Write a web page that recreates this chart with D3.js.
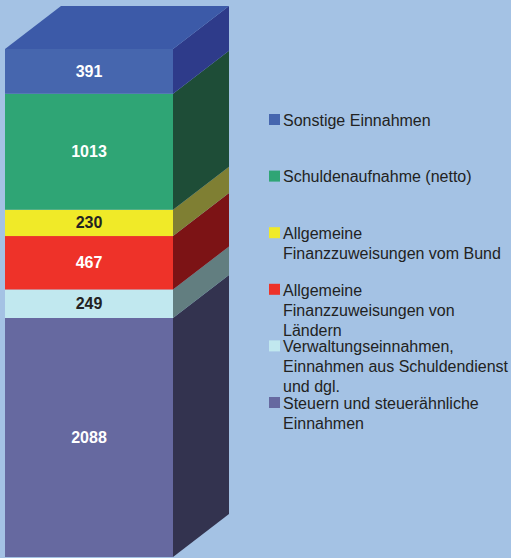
<!DOCTYPE html>
<html>
<head>
<meta charset="utf-8">
<script src="https://cdnjs.cloudflare.com/ajax/libs/d3/7.8.5/d3.min.js"></script>
<style>
  body { margin: 0; background: #a4c2e4; }
  svg { display: block; }
</style>
</head>
<body>
<div class="canvas"></div>
<script>
// data, bottom to top
const categories = [
  'Steuern und steuerähnliche Einnahmen',
  'Verwaltungseinnahmen, Einnahmen aus Schuldendienst und dgl.',
  'Allgemeine Finanzzuweisungen von Ländern',
  'Allgemeine Finanzzuweisungen vom Bund',
  'Schuldenaufnahme (netto)',
  'Sonstige Einnahmen'
]
const values = [2088, 249, 467, 230, 1013, 391]
// legend lines (wrapped as in the original), top to bottom
const legendLines = [
  ['Sonstige Einnahmen'],
  ['Schuldenaufnahme (netto)'],
  ['Allgemeine', 'Finanzzuweisungen vom Bund'],
  ['Allgemeine', 'Finanzzuweisungen von', 'Ländern'],
  ['Verwaltungseinnahmen,', 'Einnahmen aus Schuldendienst', 'und dgl.'],
  ['Steuern und steuerähnliche', 'Einnahmen']
]
const frontColors = ['#6669a0', '#c1e8ef', '#ee3229', '#f0ea28', '#2fa575', '#4666ae']
const sideColors = ['#33334f', '#627e80', '#7c1315', '#7f7f33', '#1e4d37', '#2e3b8a']
const topColor = '#3c5aa8'
const labelColors = ['#fff', '#222', '#fff', '#222', '#fff', '#fff']

const svgWidth = 511, svgHeight = 558
const svg = d3.select('.canvas')
  .append('svg')
  .attr('width', svgWidth)
  .attr('height', svgHeight)

// front face geometry and depth offset
const x0 = 5, x1 = 173
const dx = 56, dy = -43

const total = d3.sum(values)
const y = d3.scaleLinear().domain([0, total]).range([557, 49])

// cumulative stack
let acc = 0
const stacked = values.map((v, i) => {
  const s = { i, v, y0: acc, y1: acc + v }
  acc += v
  return s
})

const bar = svg.append('g')

// side faces
bar.selectAll('path.side')
  .data(stacked)
  .enter()
  .append('path')
  .attr('class', 'side')
  .attr('fill', d => sideColors[d.i])
  .attr('d', d => {
    const yb = y(d.y0), yt = y(d.y1)
    return `M${x1},${yb}L${x1 + dx},${yb + dy}L${x1 + dx},${yt + dy}L${x1},${yt}Z`
  })

// front faces
bar.selectAll('rect.front')
  .data(stacked)
  .enter()
  .append('rect')
  .attr('class', 'front')
  .attr('x', x0)
  .attr('width', x1 - x0)
  .attr('y', d => y(d.y1))
  .attr('height', d => y(d.y0) - y(d.y1))
  .attr('fill', d => frontColors[d.i])

// top face
const yTop = y(total)
bar.append('path')
  .attr('fill', topColor)
  .attr('d', `M${x0},${yTop}L${x0 + dx},${yTop + dy}L${x1 + dx},${yTop + dy}L${x1},${yTop}Z`)

// value labels
bar.selectAll('text.value')
  .data(stacked)
  .enter()
  .append('text')
  .attr('class', 'value')
  .attr('x', (x0 + x1) / 2)
  .attr('y', d => (y(d.y0) + y(d.y1)) / 2)
  .attr('dy', '0.33em')
  .attr('text-anchor', 'middle')
  .attr('font-family', 'Liberation Sans, Arial, sans-serif')
  .attr('font-weight', 'bold')
  .attr('font-size', 16)
  .attr('fill', d => labelColors[d.i])
  .text(d => d.v)

// legend
const legendY = d3.scalePoint()
  .domain(d3.range(legendLines.length))
  .range([120, 403])

const legend = svg.append('g')
  .attr('font-family', 'Liberation Sans, Arial, sans-serif')
  .attr('font-size', 16)
  .attr('fill', '#222')

const items = legend.selectAll('g')
  .data(legendLines)
  .enter()
  .append('g')
  .attr('transform', (d, i) => `translate(0, ${legendY(i)})`)

items.append('rect')
  .attr('x', 269)
  .attr('y', -6)
  .attr('width', 11)
  .attr('height', 11)
  .attr('fill', (d, i) => frontColors[values.length - 1 - i])

items.selectAll('text')
  .data(d => d)
  .enter()
  .append('text')
  .attr('x', 283)
  .attr('y', (d, j) => j * 20)
  .attr('dy', '0.36em')
  .text(d => d)
</script>
</body>
</html>
